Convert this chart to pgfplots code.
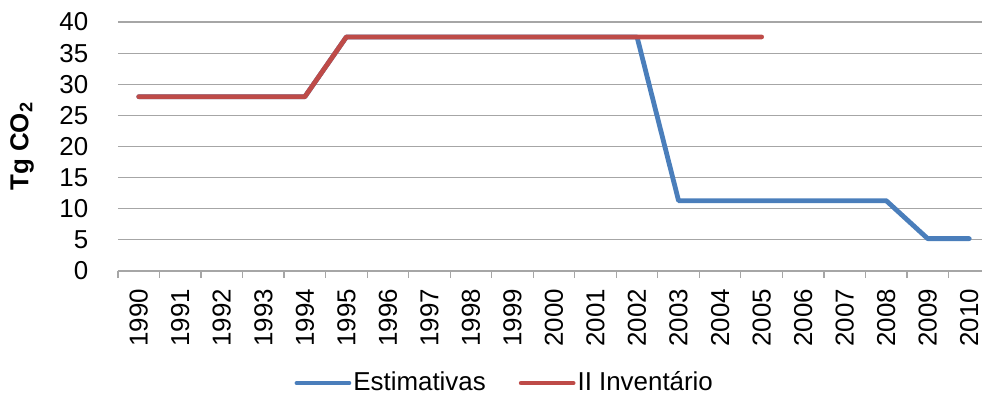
\documentclass[border=0pt]{standalone}
\usepackage{fontspec}
\setmainfont{Liberation Sans}
\usepackage{pgfplots}
\pgfplotsset{compat=1.18}
\definecolor{eblue}{HTML}{4A7EBB}
\definecolor{ired}{HTML}{BE4B48}
\definecolor{gridg}{HTML}{A6A6A6}
\begin{document}
\fontsize{26}{31}\selectfont
\begin{tikzpicture}
\useasboundingbox (-118bp,-124bp) rectangle (864bp,271bp);
\begin{axis}[
  at={(0,0)}, anchor=south west,
  scale only axis, width=872bp, height=249bp,
  xmin=-0.5, xmax=20.5, ymin=0, ymax=40,
  ytick={0,5,...,40},
  xtick={0,...,20},
  xticklabels={1990,1991,1992,1993,1994,1995,1996,1997,1998,1999,2000,2001,2002,2003,2004,2005,2006,2007,2008,2009,2010},
  minor xtick={-0.5,0.5,...,20.5},
  major tick length=0pt,
  minor tick length=7bp,
  xtick pos=bottom, ytick pos=left,
  tick align=outside,
  minor tick style={gridg, line width=1.2bp},
  ymajorgrids, major grid style={gridg, line width=1.2bp},
  axis x line*=bottom, axis y line*=left,
  x axis line style={gridg, line width=1.2bp, -},
  y axis line style={draw=none},
  yticklabel style={xshift=-21bp},
  xticklabel style={rotate=90, anchor=east, xshift=-9bp},
  /pgf/number format/assume math mode=true,
  ticklabel style={font=\fontsize{26}{31}\selectfont},
  ylabel={\bfseries Tg CO\textsubscript{2}},
  every axis y label/.style={at={(axis description cs:-0.11,0.5)}, rotate=90, anchor=center, font=\fontsize{26}{31}\selectfont},
  legend columns=2,
  legend style={at={(0.4435,-0.45)}, anchor=center, draw=none, fill=none,
    font=\fontsize{26}{31}\selectfont,
    nodes={inner xsep=2bp},
    /tikz/every even column/.append style={column sep=31bp}},
  legend image code/.code={\draw[#1, line cap=round] (2bp,0bp) -- (54bp,0bp);},
  every axis plot/.append style={line width=4.8bp, line join=round, line cap=round},
]
\addplot[eblue] coordinates {(0,28) (1,28) (2,28) (3,28) (4,28) (5,37.6) (6,37.6) (7,37.6) (8,37.6) (9,37.6) (10,37.6) (11,37.6) (12,37.6) (13,11.3) (14,11.3) (15,11.3) (16,11.3) (17,11.3) (18,11.3) (19,5.2) (20,5.2)};
\addlegendentry{Estimativas}
\addplot[ired] coordinates {(0,28) (1,28) (2,28) (3,28) (4,28) (5,37.6) (6,37.6) (7,37.6) (8,37.6) (9,37.6) (10,37.6) (11,37.6) (12,37.6) (13,37.6) (14,37.6) (15,37.6)};
\addlegendentry{II Inventário}
\end{axis}
\end{tikzpicture}
\end{document}
